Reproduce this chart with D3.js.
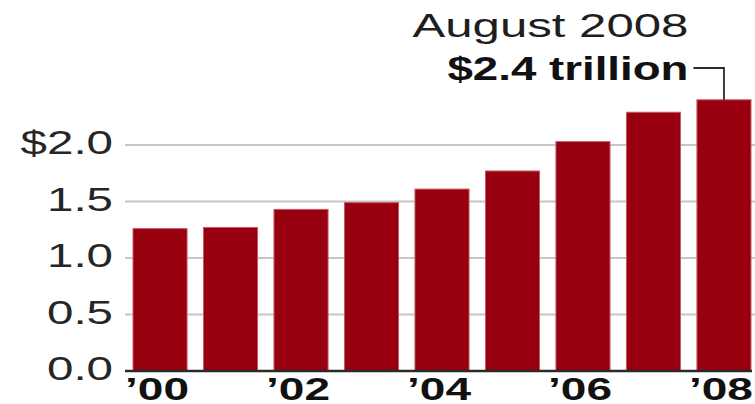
<!DOCTYPE html>
<html>
<head>
<meta charset="utf-8">
<title>debt bars</title>
<style>
  body { margin: 0; background: #fff; }
  svg { display: block; }
  text { font-family: "Liberation Sans", Arial, Helvetica, sans-serif; fill: #1e1e1e; }
</style>
<script src="https://cdn.jsdelivr.net/npm/d3@7"></script>
</head>
<body>
<script>
// data (trillions of dollars)
const years = [2000, 2001, 2002, 2003, 2004, 2005, 2006, 2007, 2008];
const values = [1.26, 1.27, 1.43, 1.49, 1.61, 1.77, 2.03, 2.29, 2.40];
const yTicks = [0, 0.5, 1.0, 1.5, 2.0];
const yTickLabels = ['0.0', '0.5', '1.0', '1.5', '$2.0'];
const xLabelYears = [2000, 2002, 2004, 2006, 2008];
const noteTitle = 'August 2008';
const noteValue = '$2.4 trillion';

const W = 755, H = 404;
const sx = 1.44; // the type in the original is stretched sideways

const svg = d3.select('body').append('svg')
  .attr('width', W)
  .attr('height', H);

const x = d3.scaleBand()
  .domain(years)
  .range([133, 751])
  .paddingInner(0.233)
  .paddingOuter(0);

const y = d3.scaleLinear()
  .domain([0, 2.0])
  .range([371, 145]);

// gridlines
svg.append('g')
  .selectAll('line')
  .data(yTicks.filter(d => d > 0))
  .join('line')
  .attr('x1', 125)
  .attr('x2', W)
  .attr('y1', d => y(d))
  .attr('y2', d => y(d))
  .attr('stroke', '#c6c6c6')
  .attr('stroke-width', 2);

// y labels
svg.append('g')
  .selectAll('text')
  .data(yTicks)
  .join('text')
  .attr('transform', d => `translate(113,${y(d) + 9}) scale(${sx},1)`)
  .attr('text-anchor', 'end')
  .style('font-size', '33px')
  .style('fill', '#262626')
  .text((d, i) => yTickLabels[i]);

// bars
svg.append('g')
  .selectAll('rect')
  .data(years)
  .join('rect')
  .attr('x', d => x(d))
  .attr('width', x.bandwidth())
  .attr('y', (d, i) => y(values[i]))
  .attr('height', (d, i) => y(0) - y(values[i]))
  .attr('fill', '#980010')
  .attr('stroke', '#c45a66')
  .attr('stroke-width', 1);

// baseline
svg.append('line')
  .attr('x1', 125)
  .attr('x2', 752)
  .attr('y1', y(0))
  .attr('y2', y(0))
  .attr('stroke', '#2a2a2a')
  .attr('stroke-width', 2.5);

// x labels
svg.append('g')
  .selectAll('text')
  .data(xLabelYears)
  .join('text')
  .attr('transform', d => `translate(${x(d) + x.bandwidth() / 2 - 3},400) scale(${sx},1)`)
  .attr('text-anchor', 'middle')
  .style('font-size', '32px')
  .style('font-weight', 'bold')
  .style('fill', '#111')
  .text(d => '\u2019' + String(d).slice(2));

// annotation for the last bar
const lastYear = years[years.length - 1];
const cx = x(lastYear) + x.bandwidth() / 2;
const topY = y(values[values.length - 1]);
const legY = 68;
const textEnd = cx - 35.5;

svg.append('path')
  .attr('d', `M${textEnd + 5},${legY}H${cx}V${topY}`)
  .attr('fill', 'none')
  .attr('stroke', '#2a2a2a')
  .attr('stroke-width', 1.8);

svg.append('text')
  .attr('x', textEnd)
  .attr('y', 37)
  .attr('text-anchor', 'end')
  .attr('textLength', 276)
  .attr('lengthAdjust', 'spacingAndGlyphs')
  .style('font-size', '33px')
  .text(noteTitle);

svg.append('text')
  .attr('x', textEnd)
  .attr('y', 80)
  .attr('text-anchor', 'end')
  .attr('textLength', 241)
  .attr('lengthAdjust', 'spacingAndGlyphs')
  .style('font-size', '33px')
  .style('font-weight', 'bold')
  .style('fill', '#111')
  .text(noteValue);
</script>
</body>
</html>
